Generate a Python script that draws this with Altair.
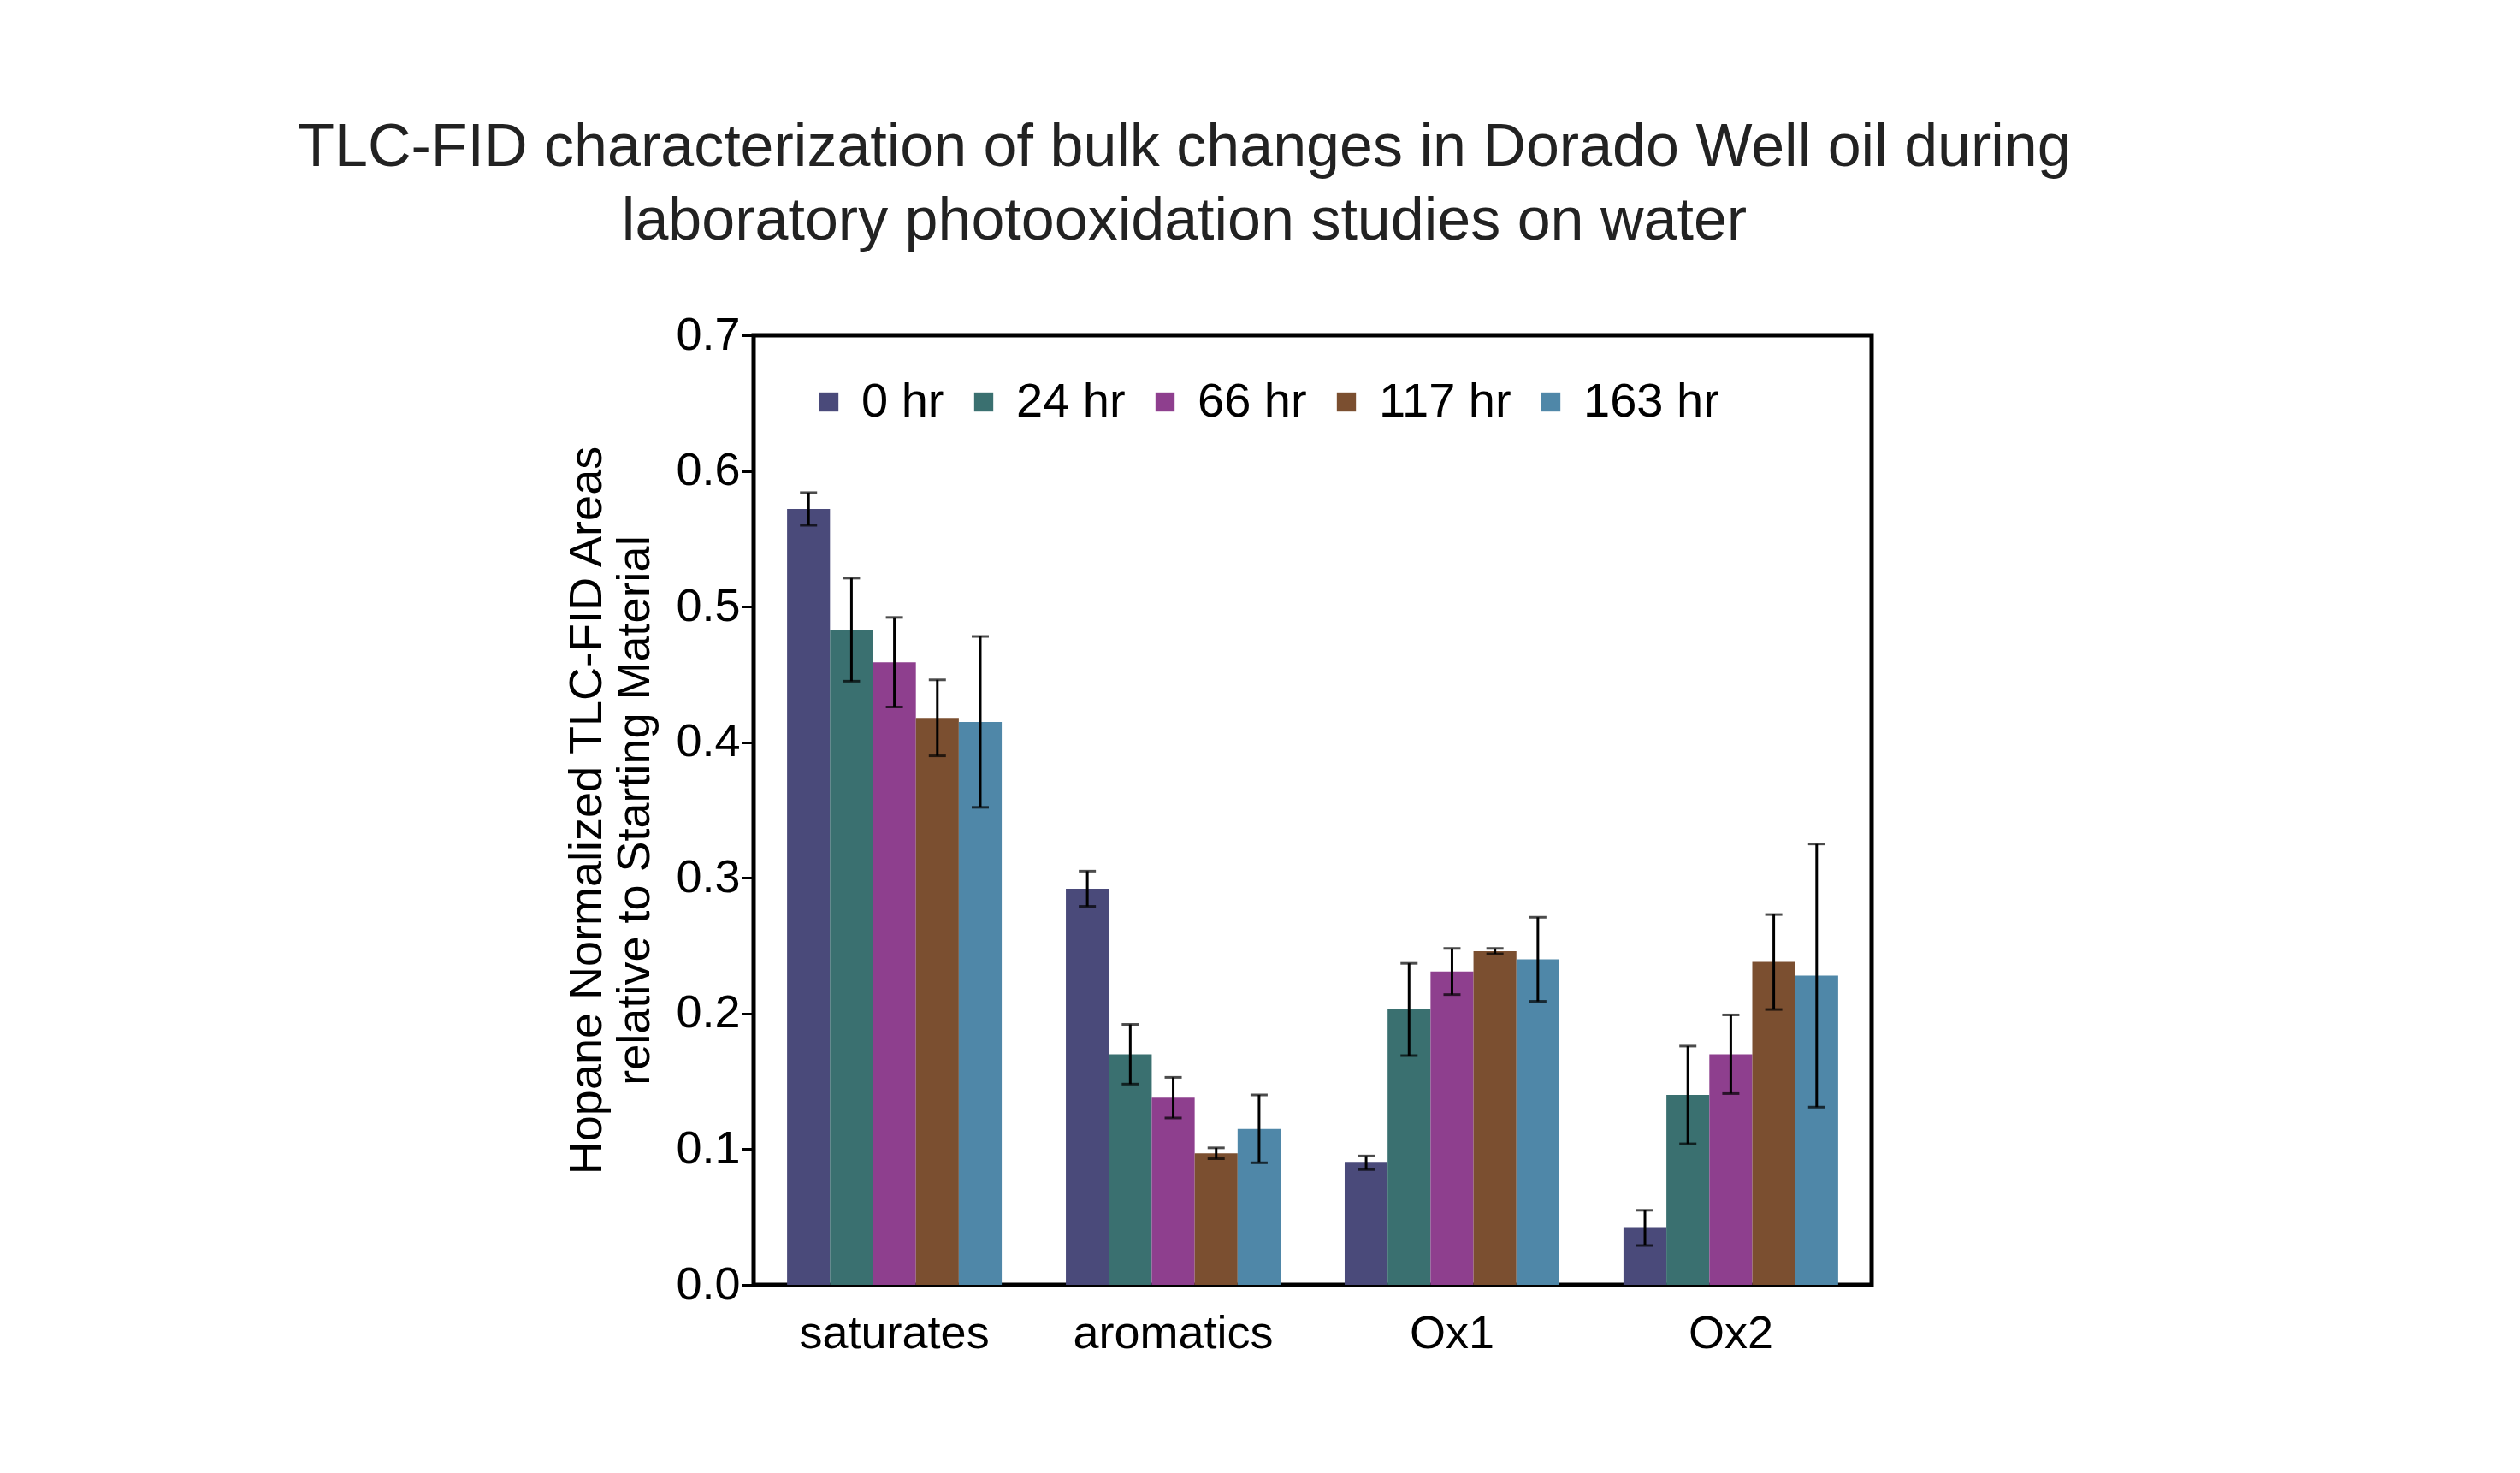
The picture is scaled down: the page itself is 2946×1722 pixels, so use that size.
import altair as alt
import pandas as pd

categories = ["saturates", "aromatics", "Ox1", "Ox2"]
series = ["0 hr", "24 hr", "66 hr", "117 hr", "163 hr"]
colors = ["#4a4a7a", "#3a7070", "#8e3f8e", "#7b4f30", "#4f87a8"]
values = {
    "saturates": [0.572, 0.483, 0.459, 0.418, 0.415],
    "aromatics": [0.292, 0.170, 0.138, 0.097, 0.115],
    "Ox1": [0.090, 0.203, 0.231, 0.246, 0.240],
    "Ox2": [0.042, 0.140, 0.170, 0.238, 0.228],
}
errors = {
    "saturates": [0.012, 0.038, 0.033, 0.028, 0.063],
    "aromatics": [0.013, 0.022, 0.015, 0.004, 0.025],
    "Ox1": [0.005, 0.034, 0.017, 0.002, 0.031],
    "Ox2": [0.013, 0.036, 0.029, 0.035, 0.097],
}

rows = []
for c in categories:
    for i, s in enumerate(series):
        v, e = values[c][i], errors[c][i]
        rows.append({"cat": c, "series": s, "v": v, "lo": v - e, "hi": v + e})
df = pd.DataFrame(rows)

F = "Liberation Sans"
x = alt.X("cat:N", sort=categories, title=None,
          scale=alt.Scale(paddingInner=0.23, paddingOuter=0.12),
          axis=alt.Axis(labelAngle=0, labelFontSize=54, labelFont=F, labelColor="black",
                        labelLimit=0, ticks=False, domain=False, labelPadding=30))
xo = alt.XOffset("series:N", sort=series, scale=alt.Scale(paddingInner=0, paddingOuter=0))

bars = alt.Chart(df).mark_bar().encode(
    x=x, xOffset=xo,
    y=alt.Y("v:Q", scale=alt.Scale(domain=[0, 0.7]),
            title=["Hopane Normalized TLC-FID Areas", "relative to Starting Material"],
            axis=alt.Axis(values=[0, 0.1, 0.2, 0.3, 0.4, 0.5, 0.6, 0.7], format=".1f",
                          grid=False, labelFontSize=54, labelFont=F, labelColor="black",
                          titleFontSize=54, titleFont=F, titleFontWeight="normal",
                          titleColor="black", domain=False, tickColor="black",
                          tickSize=14, tickWidth=3, titlePadding=20)),
    color=alt.Color("series:N", sort=series, scale=alt.Scale(domain=series, range=colors),
                    legend=alt.Legend(title=None, orient="none", direction="horizontal",
                                      legendX=60, legendY=50, symbolType="square",
                                      symbolSize=500, symbolStrokeWidth=0,
                                      labelFontSize=56, labelFont=F, labelColor="black",
                                      columnPadding=18, labelOffset=10)),
)
rule = alt.Chart(df).mark_rule(color="black", strokeWidth=3).encode(
    x=x, xOffset=xo, y="lo:Q", y2="hi:Q")
capl = alt.Chart(df).mark_tick(color="black", thickness=3, size=20, orient="horizontal").encode(
    x=x, xOffset=xo, y="lo:Q")
caph = alt.Chart(df).mark_tick(color="black", thickness=3, size=20, orient="horizontal").encode(
    x=x, xOffset=xo, y="hi:Q")

chart = alt.layer(bars, rule, capl, caph).properties(
    width=1307, height=1110,
    padding={"left": 340, "top": 130, "right": 20, "bottom": 20},
    title=alt.Title(["TLC-FID characterization of bulk changes in Dorado Well oil during",
                     "laboratory photooxidation studies on water"],
                    fontSize=70, font=F, fontWeight="normal", color="#222222",
                    anchor="middle", dx=-150, offset=70, lineHeight=86),
).configure_view(stroke="black", strokeWidth=5)

chart.save("out.html", embed_options={"renderer": "svg", "actions": False})
